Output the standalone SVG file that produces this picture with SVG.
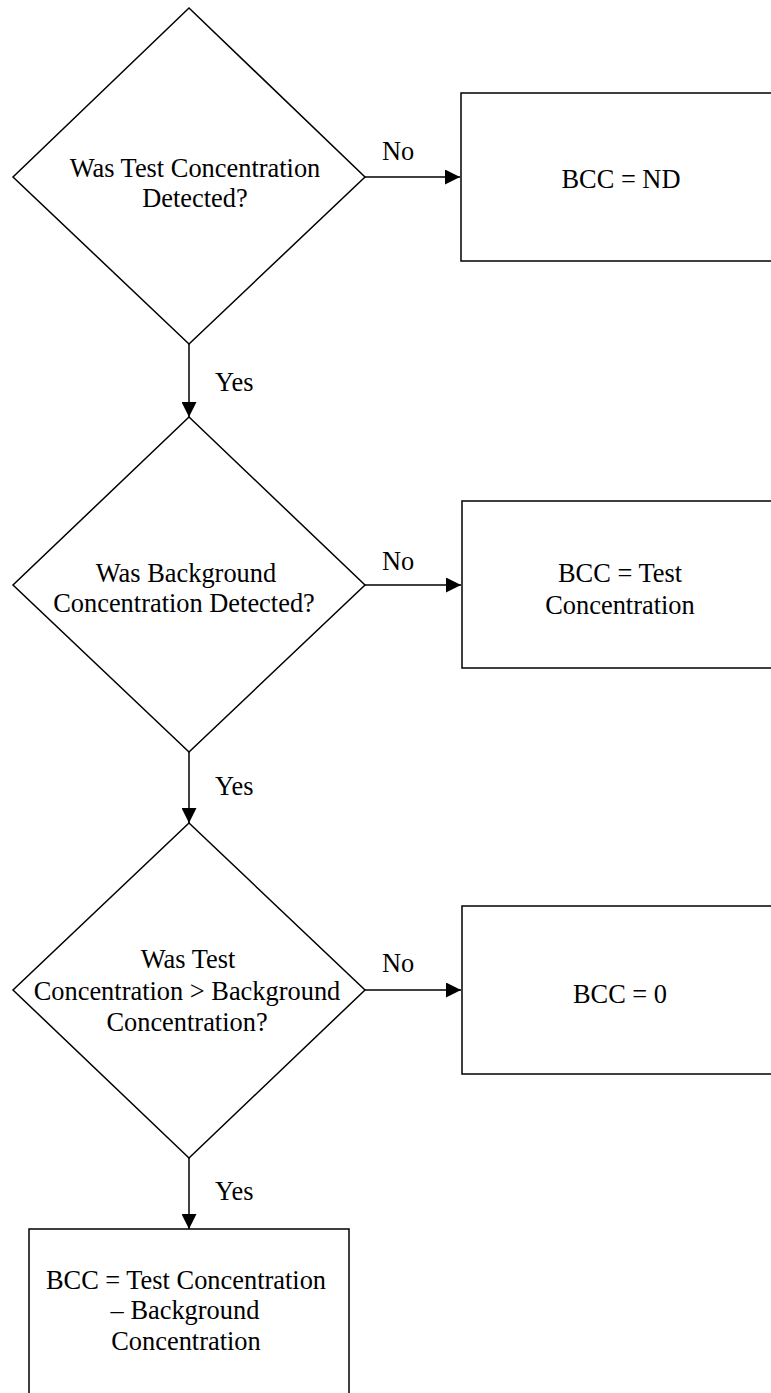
<svg xmlns="http://www.w3.org/2000/svg" width="771" height="1393" viewBox="0 0 771 1393">
<style>
.shape{fill:#fff;stroke:#000;stroke-width:1.5}
.line{fill:none;stroke:#000;stroke-width:1.5}
text{font-family:'Liberation Serif','Times New Roman',Tinos,'DejaVu Serif',serif;font-size:26.4px;fill:#000}
.c{text-anchor:middle}
</style>
<defs>
<marker id="ah" viewBox="0 0 15 15" refX="15" refY="7.5" markerWidth="15" markerHeight="15" markerUnits="userSpaceOnUse" orient="auto">
<path d="M0,0 L15,7.5 L0,15 Z" fill="#000"/>
</marker>
</defs>
<rect width="771" height="1393" fill="#fff"/>
<g id="connectors">
<path class="line" d="M365,177 H460" marker-end="url(#ah)"/>
<path class="line" d="M189,344 V417" marker-end="url(#ah)"/>
<path class="line" d="M365,585 H461" marker-end="url(#ah)"/>
<path class="line" d="M189,752 V823" marker-end="url(#ah)"/>
<path class="line" d="M365,990 H461" marker-end="url(#ah)"/>
<path class="line" d="M189,1158 V1229" marker-end="url(#ah)"/>
<text x="382" y="160" font-family="Liberation Serif">No</text>
<text x="382" y="570" font-family="Liberation Serif">No</text>
<text x="382" y="972" font-family="Liberation Serif">No</text>
<text x="215" y="391" font-family="Liberation Serif">Yes</text>
<text x="215" y="795" font-family="Liberation Serif">Yes</text>
<text x="215" y="1200" font-family="Liberation Serif">Yes</text>
</g>
<g id="d1">
<polygon class="shape" points="189,8 365,177 189,344 13,177"/>
<text class="c" x="195" y="177">Was Test Concentration</text>
<text class="c" x="195" y="207">Detected?</text>
</g>
<g id="b1">
<rect class="shape" x="461" y="93" width="330" height="168"/>
<text class="c" x="621" y="188">BCC = ND</text>
</g>
<g id="d2">
<polygon class="shape" points="189,417 365,585 189,752 13,585"/>
<text class="c" x="186" y="582">Was Background</text>
<text class="c" x="184" y="612">Concentration Detected?</text>
</g>
<g id="b2">
<rect class="shape" x="462" y="501" width="330" height="167"/>
<text class="c" x="620" y="582">BCC = Test</text>
<text class="c" x="620" y="614">Concentration</text>
</g>
<g id="d3">
<polygon class="shape" points="189,823 365,990 189,1158 13,990"/>
<text class="c" x="188" y="968">Was Test</text>
<text class="c" x="187" y="1000">Concentration &gt; Background</text>
<text class="c" x="187" y="1031">Concentration?</text>
</g>
<g id="b3">
<rect class="shape" x="462" y="906" width="330" height="168"/>
<text class="c" x="620" y="1003">BCC = 0</text>
</g>
<g id="b4">
<rect class="shape" x="29" y="1229" width="320" height="190"/>
<text class="c" x="186" y="1289">BCC = Test Concentration</text>
<text class="c" x="185" y="1319">– Background</text>
<text class="c" x="186" y="1350">Concentration</text>
</g>
</svg>
